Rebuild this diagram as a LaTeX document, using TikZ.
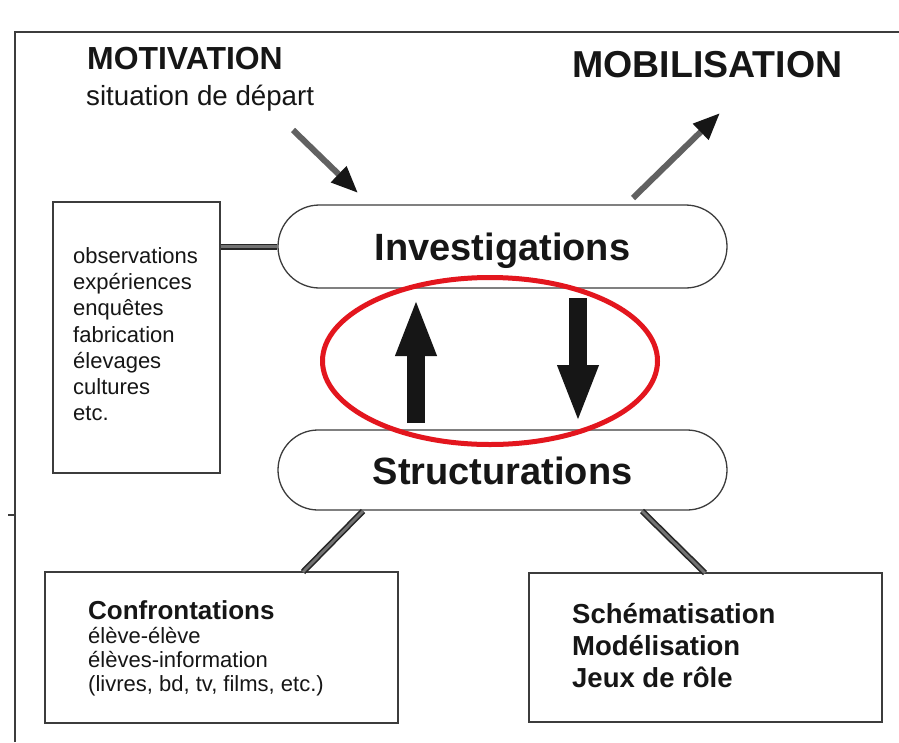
\documentclass[tikz,border=0pt]{standalone}
\usepackage{fontspec}
\setmainfont{Liberation Sans}
\usetikzlibrary{arrows.meta,shapes.misc,shapes.geometric}
\definecolor{ink}{HTML}{161616}
\definecolor{edge}{HTML}{3C3C3C}
\definecolor{loopred}{HTML}{E3161E}
\tikzset{
  pill/.style={rounded rectangle, draw=edge, line width=1.3, minimum width=449, minimum height=83, inner sep=0, fill=white},
  plainbox/.style={rectangle, draw=edge, line width=1.3, inner sep=0, fill=white},
  bigtxt/.style={font=\bfseries\fontsize{38}{40}\selectfont, text=ink, inner sep=0},
  bar/.style={draw=black!85, line width=1.6, double=black!55, double distance=2.8},
  grayarrow/.style={draw=black!62, line width=6, -{Triangle[length=27,width=21,color=ink]}},
  blockarrow/.style={draw=ink, line width=18, -{Triangle[length=58,width=37]}},
}
\begin{document}
\begin{tikzpicture}[x=1pt,y=-1pt]
\useasboundingbox (0,0) rectangle (899,742);
\fill[white] (0,0) rectangle (899,742);
% page frame
\draw[edge, line width=1.4] (15,742) -- (15,32) -- (899,32);
\draw[edge, line width=1.2] (8,515) -- (15,515);

% titles
\node[anchor=base west, inner sep=0, text=ink, font=\bfseries\fontsize{31.9}{34}\selectfont] (motiv) at (87,69) {MOTIVATION};
\node[anchor=base west, inner sep=0, text=ink, font=\fontsize{27.7}{30}\selectfont] (depart) at (86,105) {situation de départ};
\node[anchor=base west, inner sep=0, text=ink, font=\bfseries\fontsize{37.5}{40}\selectfont] (mobil) at (572,77) {MOBILISATION};

% central pills
\node[pill] (inv) at (502.5,246.5) {};
\node[pill, minimum height=80] (str) at (502.5,470) {};
\node[bigtxt, anchor=base] (invt) at (502.5,260) {Investigations};
\node[bigtxt, anchor=base] (strt) at (502.5,484) {Structurations};

% side boxes
\node[plainbox, minimum width=167, minimum height=271] (obs) at (136.5,337.5) {};
\node[anchor=north west, inner sep=0, align=left, text=ink, font=\fontsize{22}{26.3}\selectfont] (obst) at (73,247)
  {observations\\expériences\\enquêtes\\fabrication\\élevages\\cultures\\etc.};

\node[plainbox, minimum width=353, minimum height=151] (conf) at (221.5,647.5) {};
\node[anchor=north west, inner sep=0, align=left, text=ink, font=\fontsize{22}{24}\selectfont] (conft) at (88,600)
  {{\bfseries\fontsize{26}{26}\selectfont Confrontations}\\élève-élève\\élèves-information\\(livres, bd, tv, films, etc.)};

\node[plainbox, minimum width=353, minimum height=149] (schem) at (705.5,647.5) {};
\node[anchor=north west, inner sep=0, align=left, text=ink, font=\bfseries\fontsize{27.5}{32}\selectfont] (schemt) at (572,603)
  {Schématisation\\Modélisation\\Jeux de rôle};

% connectors
\draw[bar] (obs.east |- inv.west) -- (inv.west);
\coordinate (s1) at (363,511);
\coordinate (c1) at (303,572);
\coordinate (s2) at (642,511);
\coordinate (c2) at (705,573);
\draw[bar] (s1) -- (c1);
\draw[bar] (s2) -- (c2);

% arrows to/from outside
\coordinate (m1) at (293,130);
\coordinate (m2) at (358,193);
\coordinate (b1) at (633,198);
\coordinate (b2) at (720,113);
\draw[grayarrow] (m1) -- (m2);
\draw[grayarrow] (b1) -- (b2);

% red loop
\node[ellipse, draw=loopred, line width=5, minimum width=335, minimum height=167, inner sep=0] (loop) at (490,361) {};

% block arrows
\coordinate (u1) at (416,423);
\coordinate (u2) at (416,298);
\coordinate (d1) at (578,298);
\coordinate (d2) at (578,423);
\draw[blockarrow] (u1) -- (u2);
\draw[blockarrow] (d1) -- (d2);
\end{tikzpicture}
\end{document}
